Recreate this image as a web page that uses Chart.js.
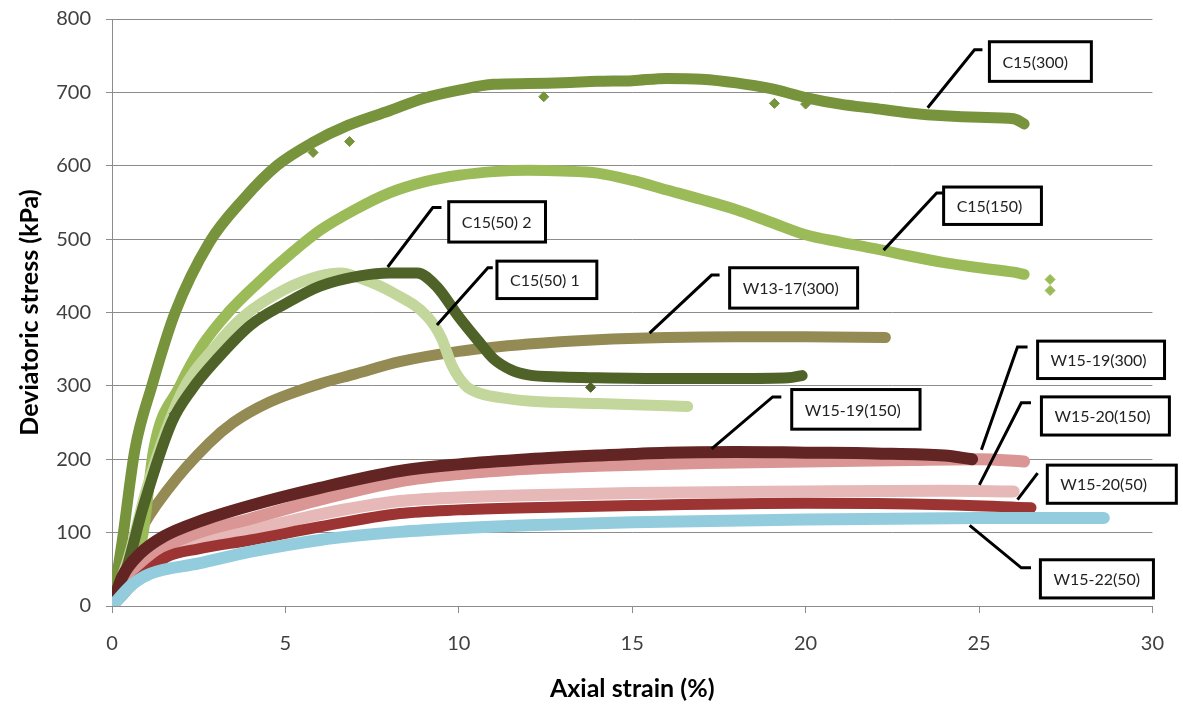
<!DOCTYPE html>
<html>
<head>
<meta charset="utf-8">
<script src="https://cdn.jsdelivr.net/npm/chart.js@4.4.1/dist/chart.umd.min.js"></script>
<style>
  html, body { margin: 0; padding: 0; background: #fff; }
  #stressChart { display: block; }
</style>
</head>
<body>
<canvas id="stressChart" width="1183" height="710"></canvas>
<script>
// axial strain (%) / deviatoric stress (kPa)
const c300X = [0, 0.3, 0.66, 1.15, 1.82, 2.8, 3.8, 4.75, 5.8, 6.8, 8, 9, 10, 11, 12, 13, 14, 15, 16, 17, 18, 19, 20, 21, 22, 23, 24, 25, 26, 26.3];
const c300Y = [0, 90, 213, 300, 400, 495, 555, 600, 632, 655, 675, 692, 703, 711, 712, 713, 715, 716, 719, 718, 713, 705, 693, 684, 678, 672, 668, 666, 664, 657];

const c150X = [0, 0.5, 0.9, 1.2, 1.96, 2.6, 3.35, 4.2, 5.2, 6, 7, 8, 9, 10, 11, 12, 13, 14, 15, 16, 17, 18, 19, 20, 21, 22, 23, 24, 25, 26, 26.3];
const c150Y = [0, 30, 100, 213, 300, 355, 400, 440, 482, 512, 540, 563, 578, 587, 592, 594, 593, 590, 580, 567, 554, 540, 523, 506, 496, 487, 477, 468, 461, 455, 452];

const c50aX = [0, 0.5, 1, 2, 3, 3.8, 5, 6, 6.6, 7.15, 8.1, 9.1, 9.5, 9.8, 10.2, 10.6, 11.5, 12.1, 14, 16, 16.6];
const c50aY = [0, 70, 160, 290, 355, 395, 432, 450, 454, 447, 427, 394, 365, 328, 300, 290, 282, 279, 276, 273, 272];

const c50bX = [0, 0.43, 0.9, 1.72, 2.3, 3, 4, 5, 6, 7.15, 8, 8.8, 9.37, 10, 10.6, 11, 11.5, 12, 13, 14, 16, 18, 19.5, 19.9];
const c50bY = [0, 53, 135, 250, 295, 335, 383, 412, 436, 450, 454, 454, 435, 394, 359, 337, 322, 315, 312, 311, 310, 310, 311, 314];

const w1317X = [0, 0.4, 0.8, 1.6, 2.8, 3.5, 4.5, 6, 7, 8.3, 10, 12, 14, 16, 18, 20, 22.3];
const w1317Y = [0, 50, 100, 158, 222, 250, 277, 303, 316, 333, 347, 357, 363, 366, 367, 367, 366];

const w1519aX = [0, 0.3, 0.8, 1.5, 2.5, 4, 6, 8.3, 10, 12, 14, 16, 18, 20, 22, 24, 24.8];
const w1519aY = [0, 40, 71, 95, 115, 137, 161, 184, 193, 200, 205, 209, 210, 209, 208, 205, 200];

const w1519bX = [0, 0.4, 0.8, 1.5, 2.5, 4, 6, 8.3, 10, 12, 14, 17, 20, 23, 25, 26.3];
const w1519bY = [0, 30, 58, 80, 100, 119, 145, 170, 180, 187, 191, 195, 197, 199, 200, 197];

const w1520aX = [0, 0.4, 0.8, 1.5, 2.5, 4, 6, 8.3, 10, 12, 15, 20, 24, 26];
const w1520aY = [0, 25, 50, 68, 85, 103, 125, 143, 148, 151, 154, 156, 157, 156];

const w1520bX = [0, 0.5, 0.8, 1.58, 2.5, 4, 6, 8.3, 10, 12, 15, 20, 24, 26.5];
const w1520bY = [0, 25, 38, 67, 78, 90, 108, 126, 131, 134, 137, 140, 138, 134];

const w1522X = [0, 0.6, 1.1, 2.5, 4, 6, 8.3, 10, 12, 15, 20, 25, 28.6];
const w1522Y = [0, 30, 44, 58, 74, 90, 101, 106, 110, 114, 118, 120, 120];

// stray markers lying off the curves
const c300OffX = [5.8, 6.85, 12.45, 19.1, 20.0];
const c300OffY = [618, 633, 694, 685, 684];
const c150OffX = [27.05, 27.05];
const c150OffY = [445, 430];
const c50bOffX = [1.8, 13.8];
const c50bOffY = [262, 298];

const yTicks = [0, 100, 200, 300, 400, 500, 600, 700, 800];
const xTicks = [0, 5, 10, 15, 20, 25, 30];

const seriesNames = ['W13-17(300)', 'C15(150)', 'C15(300)', 'C15(50) 1', 'C15(50) 2',
    'W15-20(150)', 'W15-19(300)', 'W15-19(150)', 'W15-20(50)', 'W15-22(50)'];

const toPoints = (xs, ys) => xs.map((x, i) => ({ x: x, y: ys[i] }));

// bottom first
const series = [
    { name: seriesNames[0], pts: toPoints(w1317X, w1317Y), color: '#948A54', width: 11 },
    { name: seriesNames[1], pts: toPoints(c150X, c150Y), color: '#9BBB59', width: 11 },
    { name: seriesNames[2], pts: toPoints(c300X, c300Y), color: '#77933C', width: 11 },
    { name: seriesNames[3], pts: toPoints(c50aX, c50aY), color: '#C3D69B', width: 11 },
    { name: seriesNames[4], pts: toPoints(c50bX, c50bY), color: '#4F6228', width: 11 },
    { name: seriesNames[5], pts: toPoints(w1520aX, w1520aY), color: '#E6B9B8', width: 12 },
    { name: seriesNames[6], pts: toPoints(w1519bX, w1519bY), color: '#D99694', width: 12 },
    { name: seriesNames[7], pts: toPoints(w1519aX, w1519aY), color: '#632523', width: 12 },
    { name: seriesNames[8], pts: toPoints(w1520bX, w1520bY), color: '#9B3432', width: 11 },
    { name: seriesNames[9], pts: toPoints(w1522X, w1522Y), color: '#93CDDD', width: 12 },
];

const strays = [
    { pts: toPoints(c300OffX, c300OffY), color: '#77933C' },
    { pts: toPoints(c150OffX, c150OffY), color: '#9BBB59' },
    { pts: toPoints(c50bOffX, c50bOffY), color: '#4F6228' },
];

const datasets = series.map((s, i) => ({
    label: s.name,
    data: s.pts,
    showLine: true,
    borderColor: s.color,
    backgroundColor: s.color,
    borderWidth: s.width,
    borderCapStyle: 'round',
    borderJoinStyle: 'round',
    cubicInterpolationMode: 'monotone',
    pointRadius: 0,
    order: -i,
}));

strays.forEach((s) => {
    datasets.push({
        label: 'stray',
        data: s.pts,
        showLine: false,
        pointStyle: 'rectRot',
        pointRadius: 5,
        pointBackgroundColor: s.color,
        pointBorderColor: s.color,
        order: -20,
    });
});

// callout boxes: leader tip, elbow, end of elbow, box [left, top, right, bottom] in axis units
const callouts = [
    { text: 'C15(300)', tip: [23.52, 679], elbow: [24.87, 758], end: [25.1, 758], box: [25.3, 769, 28.24, 715] },
    { text: 'C15(150)', tip: [22.25, 485], elbow: [23.78, 563], end: [23.98, 563], box: [23.98, 571, 26.8, 520] },
    { text: 'C15(50) 2', tip: [7.95, 462], elbow: [9.25, 543], end: [9.5, 543], box: [9.71, 551, 12.5, 496] },
    { text: 'C15(50) 1', tip: [9.37, 383], elbow: [10.84, 461], end: [10.98, 461], box: [11.1, 470, 13.98, 419] },
    { text: 'W13-17(300)', tip: [15.5, 372], elbow: [17.29, 451], end: [17.52, 451], box: [17.81, 461, 21.5, 406] },
    { text: 'W15-19(150)', tip: [17.29, 214], elbow: [19.05, 285], end: [19.3, 285], box: [19.6, 295, 23.3, 241] },
    { text: 'W15-19(300)', tip: [25.07, 213], elbow: [26.11, 353], end: [26.4, 353], box: [26.69, 361, 30.35, 310] },
    { text: 'W15-20(150)', tip: [25.01, 165], elbow: [26.22, 277], end: [26.5, 277], box: [26.8, 285, 30.49, 233] },
    { text: 'W15-20(50)', tip: [26.11, 145], elbow: [26.69, 181], end: [26.69, 181], box: [26.97, 192, 30.69, 140] },
    { text: 'W15-22(50)', tip: [24.73, 110], elbow: [26.22, 52], end: [26.5, 52], box: [26.77, 63, 30.03, 11] },
];

const calloutPlugin = {
    id: 'callouts',
    afterDraw(chart) {
        const { ctx, scales: { x, y } } = chart;
        const px = (v) => x.getPixelForValue(v);
        const py = (v) => y.getPixelForValue(v);
        ctx.save();
        ctx.strokeStyle = '#000';
        ctx.lineWidth = 3;
        ctx.lineJoin = 'miter';
        callouts.forEach((c) => {
            ctx.beginPath();
            ctx.moveTo(px(c.tip[0]), py(c.tip[1]));
            ctx.lineTo(px(c.elbow[0]), py(c.elbow[1]));
            ctx.lineTo(px(c.end[0]), py(c.end[1]));
            ctx.stroke();

            const l = px(c.box[0]), t = py(c.box[1]);
            const r = px(c.box[2]), b = py(c.box[3]);
            ctx.fillStyle = '#fff';
            ctx.fillRect(l, t, r - l, b - t);
            ctx.strokeRect(l, t, r - l, b - t);
            ctx.fillStyle = '#222';
            ctx.font = '16px Lato';
            ctx.textAlign = 'left';
            ctx.textBaseline = 'middle';
            ctx.fillText(c.text, l + 13, (t + b) / 2 + 1);
        });
        ctx.restore();
    }
};

Chart.defaults.font.family = 'Lato';

new Chart(document.getElementById('stressChart').getContext('2d'), {
    type: 'scatter',
    data: { datasets: datasets },
    options: {
        responsive: false,
        animation: false,
        devicePixelRatio: 1,
        layout: { padding: { top: 19, right: 30, left: 0, bottom: 0 } },
        plugins: {
            legend: { display: false },
            tooltip: { enabled: false },
        },
        scales: {
            x: {
                type: 'linear',
                min: 0,
                max: 30,
                afterBuildTicks: (axis) => { axis.ticks = xTicks.map(v => ({ value: v })); },
                afterFit: (axis) => { axis.height = 104; },
                grid: { drawOnChartArea: false, drawTicks: true, tickLength: 7, color: '#8C8C8C' },
                border: { display: true, color: '#8C8C8C', width: 1 },
                ticks: { color: '#404040', font: { size: 20 }, padding: 19, maxRotation: 0 },
                title: {
                    display: true,
                    text: 'Axial strain (%)',
                    color: '#000',
                    font: { size: 25, weight: 'bold' },
                    padding: { top: 0, bottom: 6 },
                },
            },
            y: {
                type: 'linear',
                min: 0,
                max: 800,
                afterBuildTicks: (axis) => { axis.ticks = yTicks.map(v => ({ value: v })); },
                afterFit: (axis) => {
                    axis.width = 112;
                    axis.paddingTop = 0;
                    axis.paddingBottom = 0;
                },
                grid: { color: '#8C8C8C', tickLength: 6, drawTicks: true },
                border: { display: true, color: '#8C8C8C', width: 1 },
                ticks: { color: '#404040', font: { size: 20 }, padding: 15 },
                title: {
                    display: true,
                    text: 'Deviatoric stress (kPa)',
                    color: '#000',
                    font: { size: 25, weight: 'bold' },
                    padding: { top: 15, bottom: 0 },
                },
            },
        },
    },
    plugins: [calloutPlugin],
});
</script>
</body>
</html>
